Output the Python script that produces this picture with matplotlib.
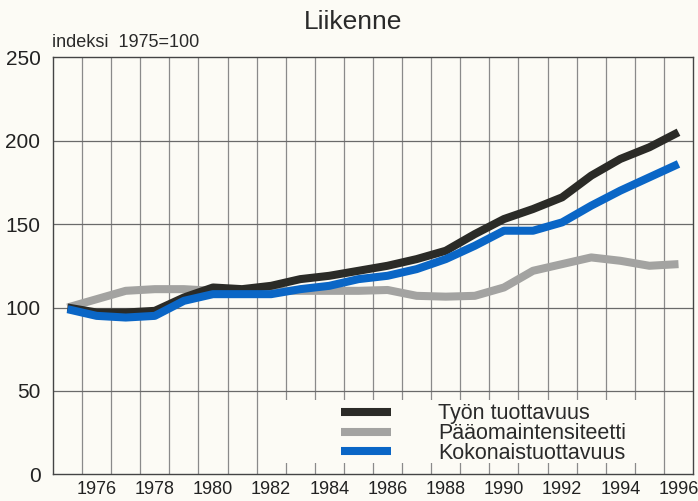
import matplotlib
matplotlib.use("Agg")
import matplotlib.pyplot as plt
from matplotlib.patches import Rectangle

plt.rcParams['font.family'] = ['Liberation Sans', 'DejaVu Sans']

years = list(range(1975, 1997))
tyon_tuottavuus = [100, 97, 97, 98, 106, 112, 111, 113, 117, 119, 122,
                   125, 129, 134, 144, 153, 159, 166, 179, 189, 196, 205]
paaomaintensiteetti = [100, 105, 110, 111, 111, 110, 110, 110, 110, 110, 110,
                       110.5, 107, 106.5, 107, 112, 122, 126, 130, 128, 125, 126]
kokonaistuottavuus = [99, 95, 94, 95, 104, 108, 108, 108, 111, 113, 117,
                      119, 123, 129, 137, 146, 146, 151, 161, 170, 178, 186]
x_ticks = list(range(1976, 1997, 2))
y_ticks = [0, 50, 100, 150, 200, 250]

bg = '#fcfbf5'
fig = plt.figure(figsize=(6.98, 5.01), dpi=100, facecolor=bg)
ax = fig.add_axes([0.0759, 0.053, 0.917, 0.833], facecolor=bg)

# grid: vertical lines between years, horizontal at the y ticks
for y in years[:-1]:
    ax.axvline(y + 0.5, color='#8a8a8a', lw=0.9, zorder=1)
for v in y_ticks[1:-1]:
    ax.axhline(v, color='#6a6a6a', lw=0.9, zorder=1)

# blank area behind the legend
ax.add_patch(Rectangle((0.342, 0.0275), 0.583, 0.151, transform=ax.transAxes,
                       facecolor=bg, edgecolor='none', zorder=2))

kw = dict(lw=5.8, solid_capstyle='butt', solid_joinstyle='round', zorder=3)
l2, = ax.plot(years, paaomaintensiteetti, color='#a3a3a1', label='Pääomaintensiteetti', **kw)
l1, = ax.plot(years, tyon_tuottavuus, color='#2b2b27', label='Työn tuottavuus', **kw)
l3, = ax.plot(years, kokonaistuottavuus, color='#0a66c6', label='Kokonaistuottavuus', **kw)

leg = ax.legend(handles=[l1, l2, l3], loc='lower left', bbox_to_anchor=(0.45, 0.025),
                frameon=False, fontsize=15.5, handlelength=2.3, handletextpad=2.2,
                labelspacing=-0.05, borderpad=0, borderaxespad=0)
for t in leg.get_texts():
    t.set_color('#2a2a2a')

ax.set_xlim(1974.5, 1996.5)
ax.set_ylim(0, 250)
ax.set_xticks(x_ticks)
ax.set_yticks(y_ticks)
ax.tick_params(axis='x', length=0, labelsize=13, pad=5, colors='#222222')
ax.tick_params(axis='y', length=0, labelsize=15, pad=9, colors='#222222')
for s in ax.spines.values():
    s.set_color('#444444')
    s.set_linewidth(1.0)

fig.text(0.506, 0.957, 'Liikenne', ha='center', va='center', fontsize=19, color='#2a2a2a')
fig.text(0.075, 0.915, 'indeksi  1975=100', ha='left', va='center', fontsize=13, color='#2a2a2a')

fig.savefig('out.png', dpi=100, facecolor=bg)
